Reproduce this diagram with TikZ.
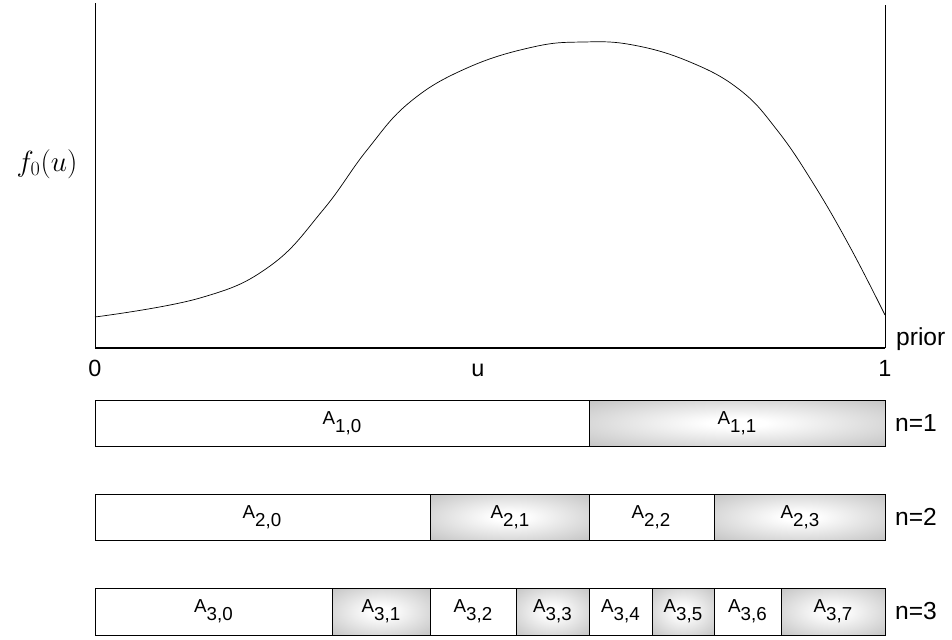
\documentclass[tikz,border=0pt]{standalone}
\usepackage[no-math]{fontspec}
\setmainfont{Liberation Sans}
\usepackage{tikz}
\usetikzlibrary{calc, positioning}
\newcommand{\Aset}[1]{A\raisebox{-0.8ex}{#1}}
\pgfdeclareradialshading{cellglow}{\pgfpoint{0bp}{0bp}}{color(0bp)=(white); color(5bp)=(white); color(50bp)=(gray!68); color(72bp)=(gray!80)}

\begin{document}
\begin{tikzpicture}[x=0.03cm, y=-0.03cm,
    axis/.style={line width=1.1pt},
    blank/.style={draw, line width=0.6pt, fill=white},
    shade/.style={draw, line width=0.6pt, shading=cellglow},
    cell/.style={font=\fontsize{16}{18}\selectfont},
    tick/.style={font=\fontsize{20}{22}\selectfont, anchor=base},
    rowlab/.style={font=\fontsize{21}{24}\selectfont, anchor=west}]
    \useasboundingbox (0,0) rectangle (952,639);

    % Axes
    \coordinate (top) at (95,3);
    \coordinate (o) at (95,348);
    \coordinate (e) at (885,348);
    \coordinate (rtop) at (885,5);
    \draw[line width=0.8pt] (top) -- (o);
    \draw[axis] (o) -- (e);
    \draw[line width=0.8pt] (e) -- (rtop);
    \node[tick] (zero) at (95,376) {0};
    \node[tick] (uu) at (478,376) {u};
    \node[tick] (one) at (885,376) {1};
    \node[rowlab] (prior) at (892,339) {prior};
    \node[font=\fontsize{27}{30}\selectfont] (fu) at (47,164) {$f_0(u)$};

    % Density
    \draw[line width=0.6pt] plot[smooth, tension=0.7] coordinates {
        (95,317) (200,298) (270,266) (323,210) (367,150) (410,102)
        (467,68) (533,47) (583,42) (633,45) (690,62) (740,90)
        (777,130) (813,183) (850,247) (885,315)};

    % n=1
    \draw[blank] (95,400) rectangle (589,446);
    \draw[shade] (589,400) rectangle (885,446);
    \node[cell] (a10) at (342,423) {\Aset{1,0}};
    \node[cell] (a11) at (737,423) {\Aset{1,1}};
    \node[rowlab] (n1) at (891,423) {n=1};

    % n=2
    \draw[blank] (95,494) rectangle (430,540);
    \draw[shade] (430,494) rectangle (589,540);
    \draw[blank] (589,494) rectangle (714,540);
    \draw[shade] (714,494) rectangle (885,540);
    \node[cell] (a20) at (262,517) {\Aset{2,0}};
    \node[cell] (a21) at (510,517) {\Aset{2,1}};
    \node[cell] (a22) at (651,517) {\Aset{2,2}};
    \node[cell] (a23) at (800,517) {\Aset{2,3}};
    \node[rowlab] (n2) at (891,517) {n=2};

    % n=3
    \foreach \a/\b/\k/\sty in {95/332/0/blank, 332/430/1/shade, 430/516/2/blank,
        516/589/3/shade, 589/652/4/blank, 652/714/5/shade, 714/781/6/blank, 781/885/7/shade}{
        \draw[\sty] (\a,588) rectangle (\b,635);
        \node[cell] (a3\k) at ({(\a+\b)/2},611) {\Aset{3,\k}};
    }
    \node[rowlab] (n3) at (891,611) {n=3};
\end{tikzpicture}
\end{document}
